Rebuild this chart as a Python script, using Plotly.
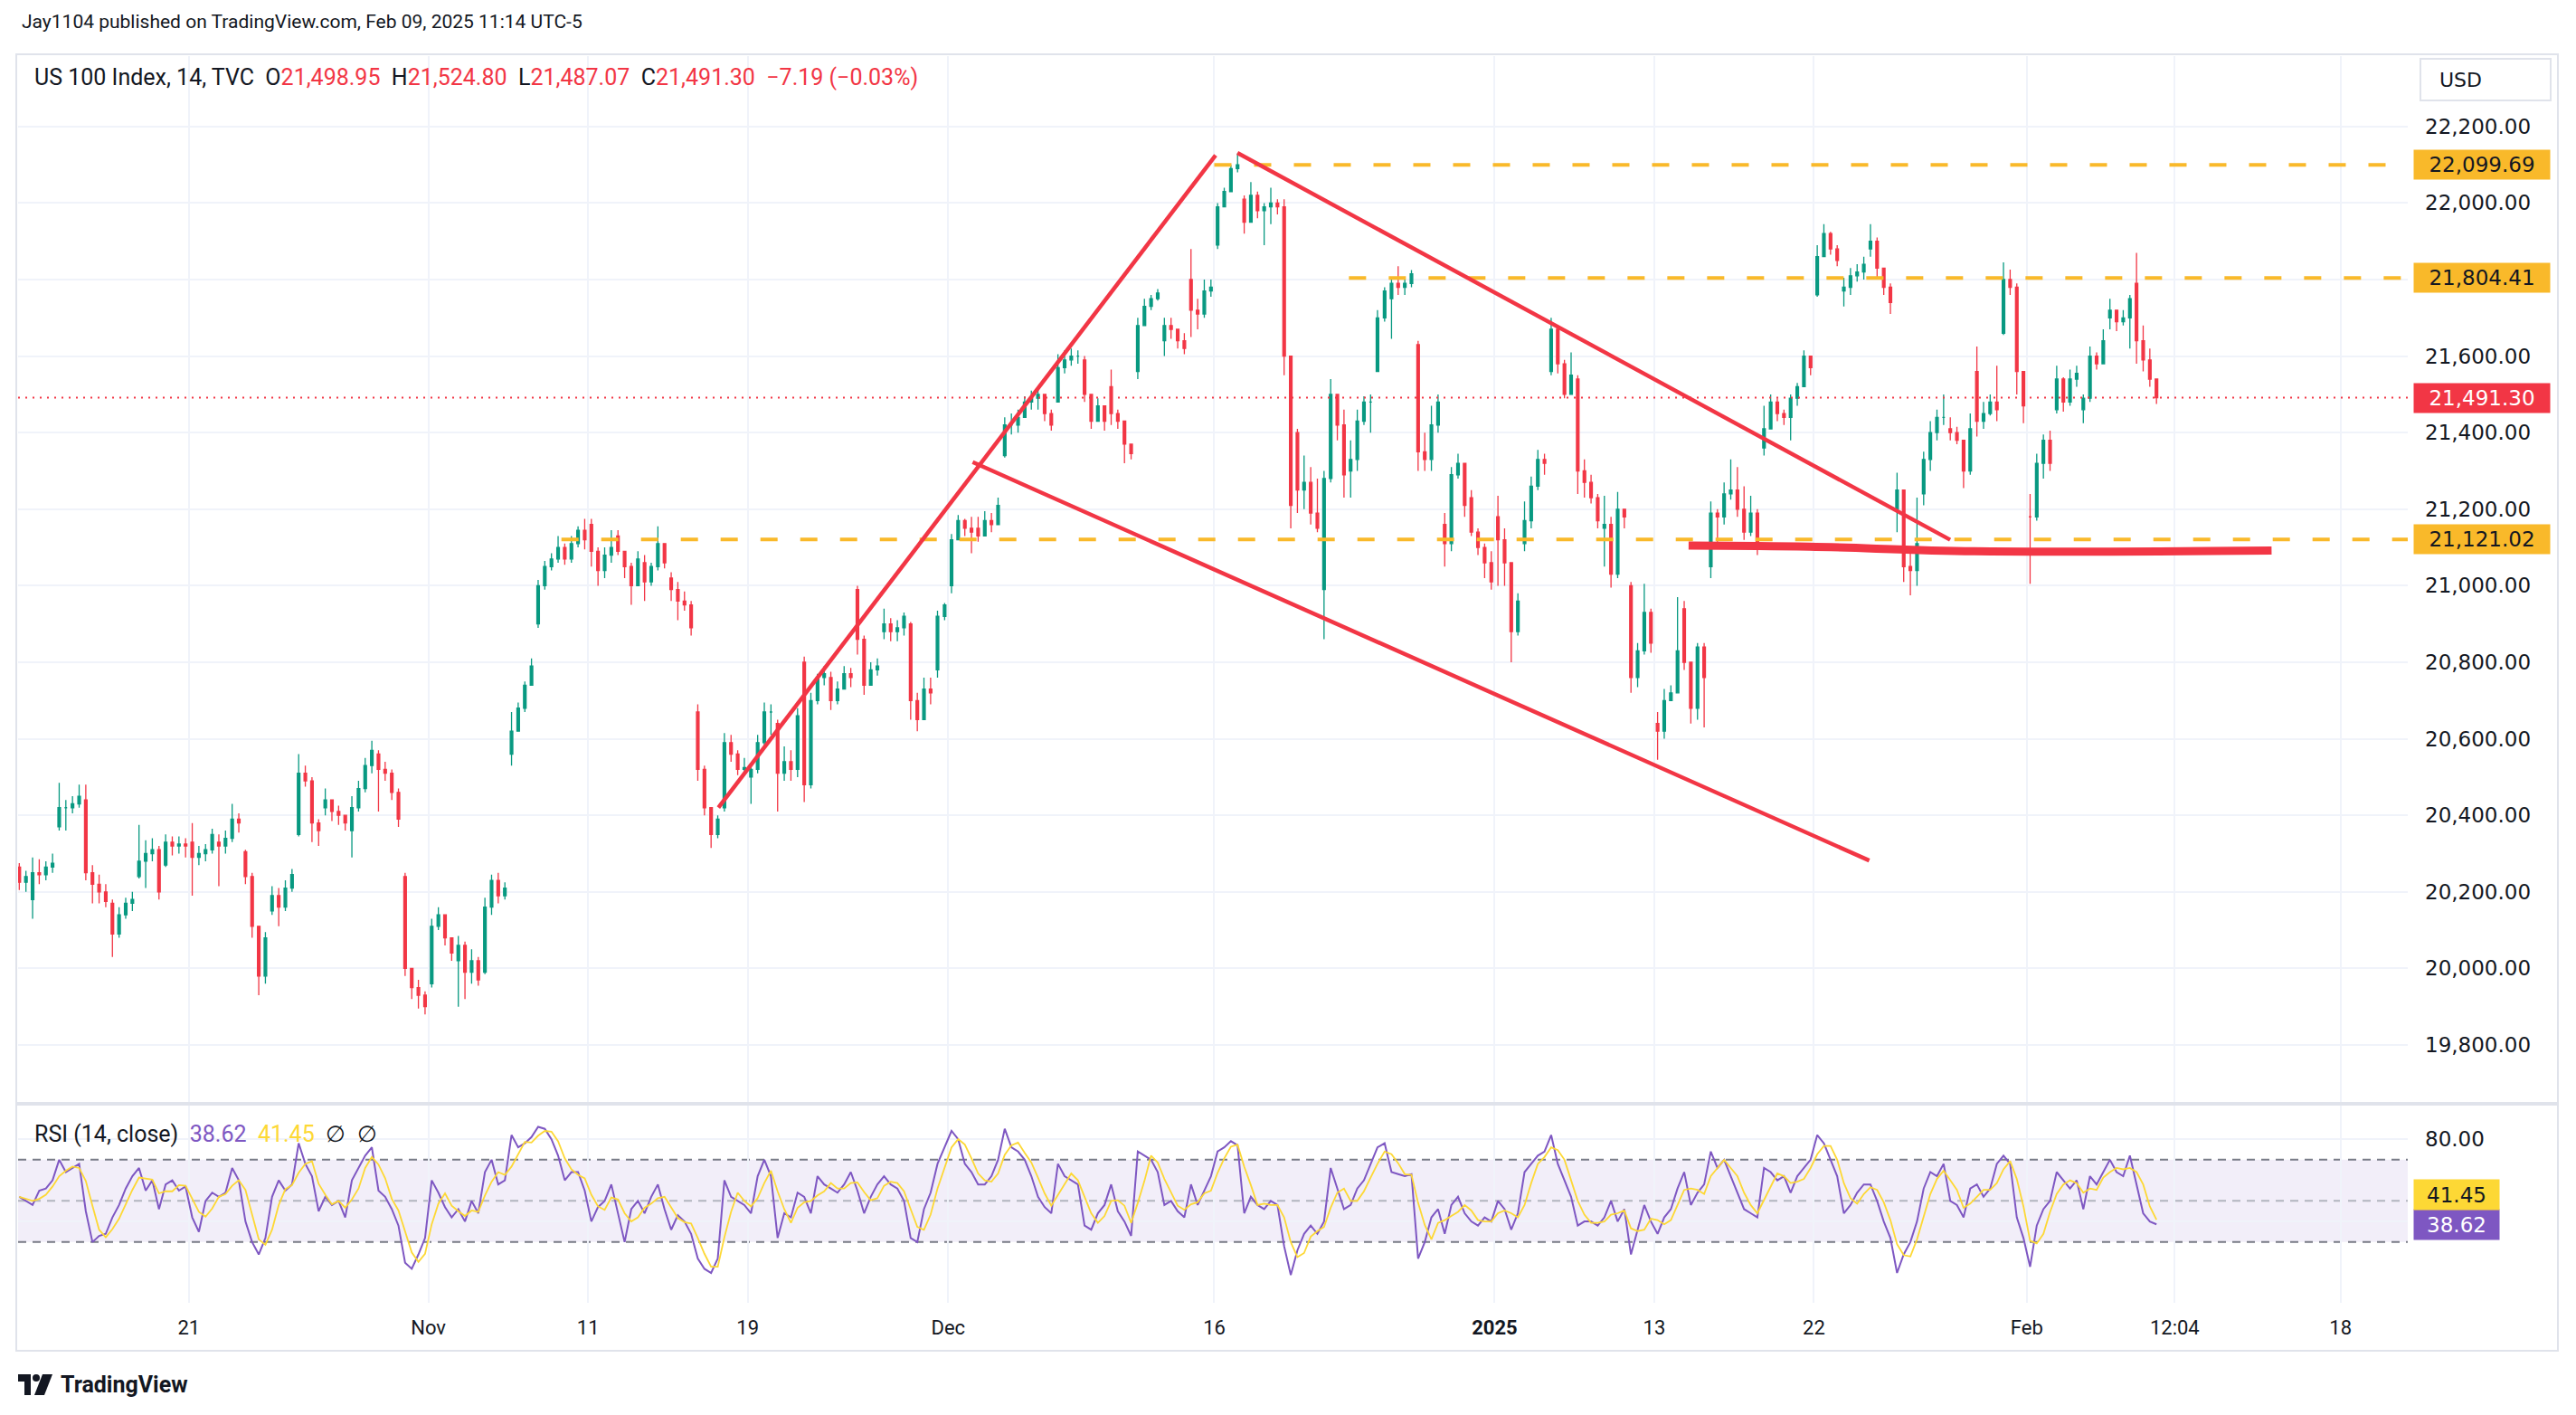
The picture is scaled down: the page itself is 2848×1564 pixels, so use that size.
import pandas as pd
import plotly.graph_objects as go

# ---------------- trading sessions on the time axis ----------------
sessions = [
    "2024-10-10", "2024-10-11", "2024-10-14", "2024-10-15", "2024-10-16", "2024-10-17", "2024-10-18",
    "2024-10-21", "2024-10-22", "2024-10-23", "2024-10-24", "2024-10-25",
    "2024-10-28", "2024-10-29", "2024-10-30", "2024-10-31", "2024-11-01",
    "2024-11-04", "2024-11-05", "2024-11-06", "2024-11-07", "2024-11-08",
    "2024-11-11", "2024-11-12", "2024-11-13", "2024-11-14", "2024-11-15",
    "2024-11-18", "2024-11-19", "2024-11-20", "2024-11-21", "2024-11-22",
    "2024-11-25", "2024-11-26", "2024-11-27", "2024-11-29",
    "2024-12-02", "2024-12-03", "2024-12-04", "2024-12-05", "2024-12-06",
    "2024-12-09", "2024-12-10", "2024-12-11", "2024-12-12", "2024-12-13",
    "2024-12-16", "2024-12-17", "2024-12-18", "2024-12-19", "2024-12-20",
    "2024-12-23", "2024-12-24", "2024-12-26", "2024-12-27",
    "2024-12-30", "2024-12-31", "2025-01-02", "2025-01-03",
    "2025-01-06", "2025-01-07", "2025-01-08", "2025-01-10",
    "2025-01-13", "2025-01-14", "2025-01-15", "2025-01-16", "2025-01-17",
    "2025-01-21", "2025-01-22", "2025-01-23", "2025-01-24",
    "2025-01-27", "2025-01-28", "2025-01-29", "2025-01-30", "2025-01-31",
    "2025-02-03", "2025-02-04", "2025-02-05", "2025-02-06", "2025-02-07",
]
half_sessions = ["2024-11-29", "2024-12-24"]

# ---------------- price data (intraday candles per session) ----------------
day_open = [
    20265, 20180, 20370, 20440, 20170, 20240, 20270,
    20330, 20330, 20305, 20150, 20350,
    20420, 20360, 20560, 20240, 19960,
    20020, 19990, 20560, 20900, 21100,
    21160, 21130, 21060, 21020, 20670,
    20420, 20500, 20640, 20800, 20760,
    20990, 20880, 20900, 20780,
    21000, 21150, 21340, 21480, 21480,
    21590, 21520, 21560, 21640, 21800,
    21890, 22010, 21990, 21400, 20990,
    21300, 21560, 21750, 21630,
    21160, 21230, 21180, 21110,
    21560, 21540, 21150, 21000,
    20640, 20940, 21050, 21250, 21360,
    21440, 21760, 21770, 21880,
    21200, 21240, 21410, 21560, 21660,
    21180, 21460, 21460, 21700, 21790,
]

closes = [
    [20225, 20240], [20250, 20245, 20265, 20275], [20420, 20420, 20430, 20450],
    [20250, 20220, 20200, 20175], [20090, 20140, 20170, 20180], [20280, 20300, 20310, 20200],
    [20330, 20320, 20325, 20320],
    [20290, 20300, 20310, 20350], [20320, 20340, 20390, 20380], [20240, 20110, 19980, 20080],
    [20190, 20160, 20210, 20245], [20510, 20490, 20380, 20360],
    [20440, 20410, 20400, 20380], [20420, 20470, 20530, 20570], [20520, 20510, 20460, 20390],
    [20000, 19950, 19930, 19900], [20110, 20140, 20080, 20040],
    [20060, 19990, 20020, 19970], [20160, 20230, 20190, 20210], [20620, 20680, 20740, 20790],
    [21000, 21050, 21070, 21100], [21070, 21110, 21145, 21120],
    [21090, 21040, 21080, 21100], [21090, 21050, 21000, 21070], [21010, 21050, 21110, 21060],
    [20990, 20960, 20950, 20890], [20520, 20420, 20350, 20390],
    [20590, 20560, 20520, 20525], [20520, 20590, 20670, 20670], [20510, 20540, 20520, 20660],
    [20480, 20700, 20760, 20770], [20700, 20730, 20770, 20760],
    [20860, 20740, 20780, 20790], [20900, 20880, 20890, 20920], [20700, 20650, 20730, 20720],
    [20920, 20950],
    [21120, 21170, 21150, 21140], [21130, 21170, 21160, 21210], [21420, 21420, 21440, 21480],
    [21490, 21500, 21450, 21420], [21570, 21590, 21600, 21600],
    [21500, 21430, 21470, 21430], [21450, 21430, 21370, 21345], [21680, 21730, 21750, 21765],
    [21680, 21670, 21640, 21620], [21720, 21710, 21770, 21780],
    [21990, 22030, 22090, 22100], [21950, 22020, 21980, 21990], [22000, 21990, 21600, 21210],
    [21250, 21270, 21190, 21150], [21280, 21500, 21420, 21290],
    [21330, 21430, 21480, 21480], [21700, 21770], [21790, 21780, 21790, 21815],
    [21350, 21330, 21420, 21480],
    [21110, 21290, 21320, 21210], [21140, 21100, 21060, 21010], [21120, 21060, 20880, 20960],
    [21170, 21260, 21330, 21320],
    [21670, 21580, 21500, 21550], [21300, 21270, 21230, 21170], [21160, 21030, 21200, 21180],
    [20760, 20830, 20930, 20850],
    [20620, 20700, 20720, 20830], [20800, 20680, 20840, 20760], [21190, 21180, 21240, 21250],
    [21200, 21140, 21190, 21100], [21410, 21480, 21450, 21440],
    [21490, 21520, 21600, 21570], [21860, 21920, 21880, 21850], [21780, 21810, 21820, 21840],
    [21900, 21830, 21780, 21740],
    [21250, 21050, 21040, 21110], [21330, 21400, 21440, 21440], [21400, 21380, 21300, 21410],
    [21430, 21450, 21480, 21460], [21800, 21780, 21560, 21470],
    [21180, 21320, 21380, 21320], [21540, 21480, 21540, 21555], [21490, 21600, 21580, 21640],
    [21720, 21690, 21700, 21750], [21640, 21590, 21540, 21491.30],
]

highs = [
    [20275, 20255], [20290, 20285, 20280, 20300], [20485, 20440, 20450, 20480],
    [20480, 20270, 20245, 20220], [20180, 20160, 20185, 20200], [20375, 20335, 20340, 20320],
    [20350, 20345, 20345, 20340],
    [20380, 20320, 20325, 20365], [20350, 20360, 20430, 20405], [20310, 20250, 20110, 20095],
    [20215, 20210, 20230, 20260], [20560, 20530, 20500, 20390],
    [20470, 20440, 20425, 20400], [20450, 20490, 20550, 20595], [20570, 20540, 20520, 20470],
    [20250, 20000, 19970, 19940], [20130, 20160, 20130, 20080],
    [20085, 20070, 20050, 20030], [20185, 20245, 20250, 20225], [20670, 20695, 20750, 20810],
    [21015, 21065, 21085, 21130], [21110, 21130, 21155, 21175],
    [21175, 21100, 21100, 21145], [21145, 21090, 21060, 21090], [21080, 21060, 21155, 21110],
    [21035, 21010, 20985, 20960], [20690, 20530, 20420, 20400],
    [20615, 20610, 20570, 20550], [20530, 20610, 20695, 20690], [20650, 20580, 20570, 20680],
    [20815, 20720, 20770, 20790], [20775, 20750, 20790, 20785],
    [21000, 20870, 20800, 20810], [20940, 20915, 20910, 20930], [20905, 20720, 20760, 20760],
    [20935, 20955],
    [21135, 21185, 21175, 21180], [21180, 21195, 21190, 21230], [21440, 21450, 21460, 21495],
    [21510, 21520, 21490, 21460], [21605, 21615, 21620, 21615],
    [21600, 21500, 21490, 21470], [21565, 21460, 21420, 21370], [21700, 21750, 21760, 21775],
    [21700, 21700, 21670, 21660], [21880, 21750, 21800, 21800],
    [22000, 22040, 22100, 22130], [22020, 22055, 22030, 22000], [22040, 22010, 22010, 21600],
    [21410, 21340, 21310, 21280], [21300, 21540, 21480, 21460],
    [21380, 21460, 21495, 21500], [21720, 21780], [21800, 21835, 21805, 21825],
    [21640, 21400, 21470, 21500],
    [21190, 21310, 21345, 21320], [21250, 21150, 21110, 21090], [21235, 21150, 21050, 20980],
    [21220, 21285, 21355, 21345],
    [21700, 21680, 21590, 21610], [21550, 21330, 21290, 21240], [21235, 21180, 21245, 21200],
    [21010, 20850, 21005, 20940],
    [20670, 20730, 20740, 20970], [20960, 20800, 20850, 20850], [21220, 21200, 21270, 21330],
    [21310, 21260, 21235, 21200], [21470, 21500, 21490, 21460],
    [21500, 21530, 21615, 21600], [21890, 21945, 21925, 21890], [21805, 21830, 21840, 21860],
    [21945, 21910, 21830, 21790],
    [21295, 21250, 21100, 21230], [21350, 21430, 21460, 21500], [21440, 21415, 21380, 21450],
    [21625, 21480, 21500, 21575], [21845, 21826, 21790, 21560],
    [21240, 21345, 21395, 21405], [21575, 21545, 21565, 21575], [21500, 21625, 21610, 21670],
    [21750, 21720, 21720, 21760], [21870, 21680, 21620, 21530],
]

lows = [
    [20205, 20200], [20130, 20220, 20230, 20250], [20360, 20360, 20405, 20420],
    [20230, 20170, 20170, 20160], [20030, 20080, 20130, 20150], [20235, 20210, 20280, 20180],
    [20265, 20295, 20300, 20290],
    [20190, 20270, 20280, 20300], [20215, 20300, 20330, 20355], [20220, 20080, 19930, 19960],
    [20140, 20110, 20150, 20200], [20345, 20475, 20330, 20320],
    [20400, 20385, 20375, 20360], [20290, 20410, 20460, 20510], [20410, 20490, 20440, 20370],
    [19980, 19920, 19895, 19880], [19950, 20100, 20060, 20020],
    [19900, 19920, 19960, 19955], [19985, 20140, 20170, 20180], [20530, 20640, 20670, 20740],
    [20890, 20990, 21040, 21060], [21055, 21060, 21100, 21095],
    [21050, 21000, 21020, 21060], [21080, 21020, 20950, 21000], [20960, 21000, 21040, 21045],
    [20960, 20910, 20935, 20870], [20490, 20400, 20315, 20340],
    [20410, 20540, 20505, 20510], [20430, 20510, 20580, 20610], [20410, 20490, 20490, 20500],
    [20435, 20470, 20690, 20740], [20675, 20690, 20730, 20735],
    [20820, 20715, 20750, 20765], [20860, 20855, 20855, 20870], [20650, 20620, 20670, 20690],
    [20760, 20910],
    [20980, 21120, 21130, 21085], [21115, 21140, 21140, 21170], [21335, 21395, 21400, 21450],
    [21460, 21460, 21430, 21405], [21480, 21555, 21575, 21580],
    [21480, 21410, 21440, 21405], [21420, 21410, 21320, 21330], [21540, 21690, 21720, 21745],
    [21600, 21645, 21620, 21605], [21650, 21670, 21700, 21755],
    [21880, 21990, 22030, 22080], [21920, 21950, 21960, 21890], [21945, 21970, 21550, 21150],
    [21190, 21200, 21160, 21140], [20860, 21270, 21380, 21230],
    [21230, 21300, 21420, 21400], [21560, 21690], [21645, 21760, 21760, 21780],
    [21300, 21300, 21300, 21400],
    [21050, 21090, 21280, 21180], [21130, 21080, 21020, 20990], [21000, 21000, 20800, 20870],
    [21090, 21150, 21250, 21290],
    [21550, 21555, 21490, 21500], [21240, 21230, 21215, 21150], [21050, 20995, 21020, 21150],
    [20720, 20735, 20820, 20825],
    [20545, 20600, 20700, 20720], [20780, 20640, 20650, 20630], [21020, 21100, 21160, 21225],
    [21180, 21120, 21130, 21080], [21340, 21410, 21430, 21420],
    [21380, 21470, 21520, 21550], [21755, 21860, 21865, 21835], [21730, 21760, 21795, 21800],
    [21860, 21800, 21760, 21710],
    [21140, 21010, 20975, 21000], [21210, 21300, 21380, 21420], [21380, 21370, 21255, 21290],
    [21390, 21410, 21445, 21430], [21655, 21760, 21500, 21425],
    [21005, 21170, 21280, 21300], [21450, 21455, 21470, 21520], [21425, 21480, 21565, 21600],
    [21670, 21665, 21680, 21620], [21580, 21560, 21520, 21475],
]

# RSI (14, close) readings, same candles
rsi = [
    [52, 50], [48, 55, 56, 60], [70, 64, 66, 68], [45, 30, 33, 34], [42, 48, 56, 62],
    [66, 55, 60, 46], [58, 60, 55, 57],
    [42, 35, 50, 54], [52, 54, 66, 60], [40, 30, 24, 32], [52, 60, 55, 58], [78, 68, 62, 45],
    [52, 48, 50, 42], [60, 66, 72, 76], [55, 52, 46, 38], [20, 17, 24, 32], [60, 54, 47, 42],
    [46, 40, 50, 44], [64, 70, 58, 60], [82, 76, 78, 81], [86, 85, 80, 72], [60, 64, 64, 55],
    [40, 47, 50, 58], [44, 30, 46, 50], [44, 52, 58, 46], [36, 43, 40, 34], [22, 17, 15, 22],
    [60, 52, 50, 48], [44, 62, 70, 62], [32, 44, 42, 54], [52, 44, 62, 58], [56, 54, 58, 64],
    [55, 44, 52, 58], [62, 58, 56, 50], [32, 30, 46, 54], [68, 76],
    [84, 80, 68, 64], [58, 58, 62, 70], [85, 76, 74, 70], [62, 52, 47, 44], [68, 62, 60, 58],
    [38, 36, 44, 48], [58, 45, 40, 33], [74, 72, 70, 64], [48, 50, 45, 42], [58, 48, 55, 62],
    [74, 76, 79, 77], [44, 52, 48, 46], [50, 48, 28, 14], [26, 34, 38, 34], [40, 66, 56, 46],
    [48, 56, 60, 68], [76, 78], [64, 63, 62, 63], [22, 30, 42, 46],
    [34, 48, 52, 44], [40, 38, 42, 40], [50, 46, 36, 44], [64, 68, 72, 74],
    [82, 68, 60, 52], [38, 40, 40, 38], [42, 50, 40, 46], [24, 36, 48, 40],
    [34, 42, 46, 56], [64, 48, 54, 58], [74, 66, 70, 62], [54, 46, 44, 42], [66, 64, 60, 62],
    [54, 62, 66, 70], [82, 78, 70, 62], [44, 48, 54, 58], [58, 50, 40, 32],
    [15, 24, 30, 40], [56, 64, 62, 68], [50, 48, 42, 56], [58, 52, 56, 68], [72, 68, 42, 32],
    [18, 38, 46, 50], [64, 60, 56, 60], [46, 62, 58, 64], [70, 64, 62, 72], [58, 44, 40, 38.62],
]

last_bar_ohlc = [21498.95, 21524.80, 21487.07, 21491.30]
last_change = [-7.19, -0.03]
rsi_last = [38.62, 41.45]

# horizontal levels drawn on chart: (price, start session, fraction of session)
levels = [22099.69, 21804.41, 21121.02]
level_starts = [("2024-12-16", 0.0), ("2024-12-23", 0.06), ("2024-11-08", 0.0)]

# trend lines: (session, fraction of session, price)
trend_lines = [
    [("2024-11-15", 0.90, 20420), ("2024-12-16", 0.05, 22125)],
    [("2024-12-16", 0.87, 22131), ("2025-01-29", 0.12, 21120)],
    [("2024-12-02", 0.92, 21323), ("2025-01-24", 0.08, 20282)],
]
support_line = [("2025-01-14", 0.29, 21105), ("2025-01-21", 0.83, 21102),
                ("2025-01-30", 0.03, 21090), ("2025-02-07", 5.20, 21092)]

tick_dates = ["2024-10-21", "2024-11-01", "2024-11-11", "2024-11-19", "2024-12-02", "2024-12-16",
              "2025-01-02", "2025-01-13", "2025-01-22", "2025-02-03"]
tick_text = ["21", "Nov", "11", "19", "Dec", "16", "<b>2025</b>", "13", "22", "Feb"]
future_ticks = [("12:04", 0.56), ("18", 6.79)]  # sessions after the last close

# ---------------- session scale ----------------
HALF = 15 / 28
start = {}
u = -7.0
for s in sessions:
    start[s] = u
    u += HALF if s in half_sessions else 1.0
session_end = u


def pos(d, frac):
    return start[d] + frac * (HALF if d in half_sessions else 1.0)


xs, O, H, L, C, R = [], [], [], [], [], []
for i, s in enumerate(sessions):
    length = HALF if s in half_sessions else 1.0
    slots = 2 if s in half_sessions else 4
    n = len(closes[i])
    off = slots - n
    prev = day_open[i]
    for k in range(n):
        c = closes[i][k]
        xs.append(start[s] + (off + k + 0.5) * length / slots)
        O.append(prev)
        C.append(c)
        H.append(max(highs[i][k], prev, c))
        L.append(min(lows[i][k], prev, c))
        R.append(rsi[i][k])
        prev = c

rsi_ma = pd.Series(R).rolling(3, min_periods=1).mean()

X0, X1 = -6.42, 83.39
Y0, Y1 = 19651, 22384
R0, R1 = 0.5, 96.3

W, HGT = 2848, 1564
ML, MR, MT, MB = 20, 186, 62, 124
PW, PH = W - ML - MR, HGT - MT - MB


def px(xp):
    return (xp - ML) / PW


def py(yp):
    return (MT + PH - yp) / PH


RED = "#f23645"
GREEN = "#089981"
GOLD = "#f9b92a"
PURPLE = "#7e57c2"
YEL = "#fdd835"
TXT = "#131722"
GRID = "#f0f3fa"
AXF = "DejaVu Sans"

fig = go.Figure()

fig.add_trace(go.Candlestick(
    x=xs, open=O, high=H, low=L, close=C, xaxis="x", yaxis="y",
    increasing=dict(line=dict(color=GREEN, width=1.3), fillcolor=GREEN),
    decreasing=dict(line=dict(color=RED, width=1.3), fillcolor=RED),
    whiskerwidth=0, showlegend=False, hoverinfo="skip"))

# last price dotted line
fig.add_trace(go.Scatter(x=[X0, X1], y=[last_bar_ohlc[3]] * 2, mode="lines",
                         line=dict(color=RED, width=2, dash="2px,6px"),
                         showlegend=False, hoverinfo="skip"))

# horizontal levels
for lv, (d, f) in zip(levels, level_starts):
    fig.add_trace(go.Scatter(x=[pos(d, f), X1], y=[lv, lv], mode="lines",
                             line=dict(color=GOLD, width=4, dash="19px,25px"),
                             showlegend=False, hoverinfo="skip"))

# trend lines
for tl in trend_lines:
    fig.add_trace(go.Scatter(x=[pos(d, f) for d, f, p in tl], y=[p for d, f, p in tl],
                             mode="lines", line=dict(color=RED, width=4.5),
                             showlegend=False, hoverinfo="skip"))
fig.add_trace(go.Scatter(x=[pos(d, f) for d, f, p in support_line], y=[p for d, f, p in support_line],
                         mode="lines", line=dict(color=RED, width=9, shape="spline"),
                         showlegend=False, hoverinfo="skip"))

# RSI
fig.add_trace(go.Scatter(x=xs, y=R, mode="lines", xaxis="x", yaxis="y2",
                         line=dict(color=PURPLE, width=2), showlegend=False, hoverinfo="skip"))
fig.add_trace(go.Scatter(x=xs, y=rsi_ma, mode="lines", xaxis="x", yaxis="y2",
                         line=dict(color=YEL, width=1.8), showlegend=False, hoverinfo="skip"))

tickvals = [start[d] for d in tick_dates] + [session_end + f for _, f in future_ticks]
ticktext = tick_text + [t for t, _ in future_ticks]

dom_split_main = (HGT - MB - 1218) / PH
dom_split_rsi = (HGT - MB - 1222) / PH

fig.update_layout(
    width=W, height=HGT,
    margin=dict(l=ML, r=MR, t=MT, b=MB),
    paper_bgcolor="white", plot_bgcolor="white",
    hovermode=False, showlegend=False,
    boxgap=0.45,
    xaxis=dict(range=[X0, X1], domain=[0, 1], anchor="y2",
               tickvals=tickvals, ticktext=ticktext, ticks="",
               tickfont=dict(family="Roboto", size=22, color=TXT),
               ticklabelstandoff=12,
               showgrid=True, gridcolor=GRID, gridwidth=2,
               zeroline=False, showline=False, rangeslider=dict(visible=False)),
    yaxis=dict(range=[Y0, Y1], domain=[dom_split_main, 1], side="right", anchor="x",
               dtick=200, tick0=0, tickformat=",.2f", ticks="",
               tickfont=dict(family=AXF, size=23, color=TXT),
               ticklabelstandoff=18,
               showgrid=True, gridcolor=GRID, gridwidth=2, zeroline=False, showline=False),
    yaxis2=dict(range=[R0, R1], domain=[0, dom_split_rsi], side="right", anchor="x",
                tickvals=[40, 80], ticktext=["40.00", "80.00"], ticks="",
                tickfont=dict(family=AXF, size=23, color=TXT),
                ticklabelstandoff=18,
                showgrid=True, gridcolor=GRID, gridwidth=2, zeroline=False, showline=False),
)

shapes = []
# RSI band and guide lines
shapes.append(dict(type="rect", xref="paper", yref="y2", x0=0, x1=1, y0=30, y1=70,
                   fillcolor="rgba(126,87,194,0.10)", line=dict(width=0), layer="below"))
for lvl, col in [(70, "#787b86"), (50, "#b2b5be"), (30, "#787b86")]:
    shapes.append(dict(type="line", xref="paper", yref="y2", x0=0, x1=1, y0=lvl, y1=lvl,
                       line=dict(color=col, width=2, dash="9px,7px"), layer="below"))
# outer frame
shapes.append(dict(type="rect", xref="paper", yref="paper", x0=px(18), x1=px(2828), y0=py(1493), y1=py(60),
                   line=dict(color="#e0e3eb", width=2), fillcolor="rgba(0,0,0,0)", layer="above"))
# pane separator
shapes.append(dict(type="line", xref="paper", yref="paper", x0=px(18), x1=px(2828), y0=py(1220), y1=py(1220),
                   line=dict(color="#e0e3eb", width=4), layer="above"))
# USD box
shapes.append(dict(type="rect", xref="paper", yref="paper", x0=px(2676), x1=px(2820), y0=py(111), y1=py(65),
                   line=dict(color="#e0e3eb", width=2), fillcolor="white", layer="above"))
# TradingView logo
shapes.append(dict(type="path", xref="paper", yref="paper", fillcolor=TXT, line=dict(width=0),
                   path=f"M {px(20)} {py(1519)} L {px(34)} {py(1519)} L {px(34)} {py(1542)} L {px(27)} {py(1542)} "
                        f"L {px(27)} {py(1527)} L {px(20)} {py(1527)} Z"))
shapes.append(dict(type="circle", xref="paper", yref="paper", fillcolor=TXT, line=dict(width=0),
                   x0=px(36), x1=px(44), y0=py(1527), y1=py(1519)))
shapes.append(dict(type="path", xref="paper", yref="paper", fillcolor=TXT, line=dict(width=0),
                   path=f"M {px(47)} {py(1519)} L {px(58)} {py(1519)} L {px(49)} {py(1542)} L {px(38)} {py(1542)} Z"))
fig.update_layout(shapes=shapes)

ann = []
ann.append(dict(text="Jay1104 published on TradingView.com, Feb 09, 2025 11:14 UTC-5",
                xref="paper", yref="paper", x=px(22), y=py(24), xanchor="left", yanchor="middle",
                showarrow=False, font=dict(family="Roboto", size=21, color=TXT)))


def fmt(v):
    return f"{v:,.2f}"


sp = "\u00a0"
hdr = ("US 100 Index, 14, TVC" + sp * 2 +
       "O<span style='color:#f23645'>" + fmt(last_bar_ohlc[0]) + "</span>" + sp * 2 +
       "H<span style='color:#f23645'>" + fmt(last_bar_ohlc[1]) + "</span>" + sp * 2 +
       "L<span style='color:#f23645'>" + fmt(last_bar_ohlc[2]) + "</span>" + sp * 2 +
       "C<span style='color:#f23645'>" + fmt(last_bar_ohlc[3]) + "</span>" + sp * 2 +
       "<span style='color:#f23645'>\u2212" + f"{abs(last_change[0]):.2f}" + " (\u2212" +
       f"{abs(last_change[1]):.2f}" + "%)</span>")
ann.append(dict(text=hdr, xref="paper", yref="paper", x=px(36), y=py(85), xanchor="left", yanchor="middle",
                showarrow=False, font=dict(family="Roboto", size=25, color=TXT)))
rsi_hdr = ("RSI (14, close)" + sp * 2 + f"<span style='color:{PURPLE}'>{rsi_last[0]:.2f}</span>" + sp * 2 +
           f"<span style='color:{YEL}'>{rsi_last[1]:.2f}</span>" + sp * 2 + "\u2205" + sp * 2 + "\u2205")
ann.append(dict(text=rsi_hdr, xref="paper", yref="paper", x=px(36), y=py(1253), xanchor="left", yanchor="middle",
                showarrow=False, font=dict(family="Roboto", size=25, color=TXT)))
ann.append(dict(text="USD", xref="paper", yref="paper", x=px(2720), y=py(88), xanchor="center", yanchor="middle",
                showarrow=False, font=dict(family=AXF, size=22, color=TXT)))
ann.append(dict(text="<b>TradingView</b>", xref="paper", yref="paper", x=px(65), y=py(1530), xanchor="left",
                yanchor="middle", showarrow=False, font=dict(family="Roboto", size=25, color=TXT)))

# price-scale labels
for lv in levels:
    ann.append(dict(text=fmt(lv), xref="paper", yref="y", x=px(2668), y=lv, xanchor="left", yanchor="middle",
                    showarrow=False, bgcolor=GOLD, width=150, height=32, borderpad=0, align="center",
                    font=dict(family=AXF, size=23, color=TXT)))
ann.append(dict(text=fmt(last_bar_ohlc[3]), xref="paper", yref="y", x=px(2668), y=last_bar_ohlc[3],
                xanchor="left", yanchor="middle", showarrow=False, bgcolor=RED, width=150, height=32,
                borderpad=0, align="center", font=dict(family=AXF, size=23, color="white")))
ann.append(dict(text=f"{rsi_last[0]:.2f}", xref="paper", yref="y2", x=px(2668), y=rsi_last[0],
                xanchor="left", yanchor="middle", showarrow=False, bgcolor=PURPLE, width=94, height=33,
                borderpad=0, align="center", font=dict(family=AXF, size=23, color="white")))
ann.append(dict(text=f"{rsi_last[1]:.2f}", xref="paper", yref="y2", x=px(2668), y=rsi_last[0], yshift=33,
                xanchor="left", yanchor="middle", showarrow=False, bgcolor=YEL, width=94, height=33,
                borderpad=0, align="center", font=dict(family=AXF, size=23, color=TXT)))
fig.update_layout(annotations=ann)

fig.write_html("out.html", config={"displayModeBar": False},
               post_script="document.body.style.margin='0px';document.body.style.overflow='hidden';")
